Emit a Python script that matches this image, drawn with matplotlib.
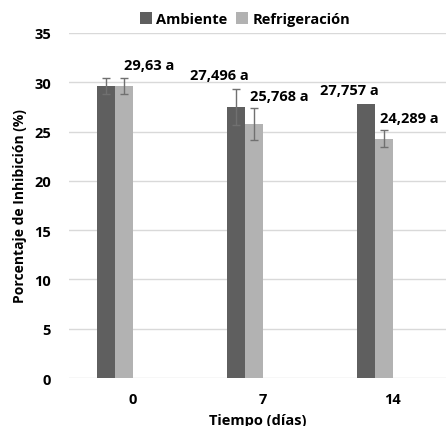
import numpy as np
import matplotlib.pyplot as plt

plt.rcParams['font.family'] = ['Open Sans', 'DejaVu Sans']
plt.rcParams['font.weight'] = 'bold'

dias = ['0', '7', '14']
ambiente = [29.63, 27.496, 27.757]
ambiente_err = [0.85, 1.85, 0.0]
refrigeracion = [29.63, 25.768, 24.289]
refrigeracion_err = [0.85, 1.6, 0.85]
etiq_ambiente = ['', '27,496 a', '27,757 a']
etiq_refrig = ['29,63 a', '25,768 a', '24,289 a']

fig = plt.figure(figsize=(4.46, 4.27), dpi=100)
ax = fig.add_axes([0.1547, 0.1124, 0.8453, 0.808])

x = np.arange(len(dias))
w = 0.14
b1 = ax.bar(x - 0.208, ambiente, w, color='#5f5f5f', label='Ambiente', zorder=3)
b2 = ax.bar(x - 0.068, refrigeracion, w, color='#b2b2b2', label='Refrigeración', zorder=3)

ekw = dict(fmt='none', ecolor='#707070', elinewidth=1, capsize=3, capthick=1, zorder=4)
for i in range(len(dias)):
    if ambiente_err[i] > 0:
        ax.errorbar(x[i] - 0.208, ambiente[i], yerr=ambiente_err[i], **ekw)
    if refrigeracion_err[i] > 0:
        ax.errorbar(x[i] - 0.068, refrigeracion[i], yerr=refrigeracion_err[i], **ekw)

for i in range(len(dias)):
    if etiq_ambiente[i]:
        ax.annotate(etiq_ambiente[i], (x[i] - 0.208, ambiente[i] + ambiente_err[i]),
                    xytext=(-12, 5), textcoords='offset points',
                    ha='center', va='bottom', fontsize=10.5, fontweight='bold')
    ax.annotate(etiq_refrig[i], (x[i] - 0.068, refrigeracion[i] + refrigeracion_err[i]),
                xytext=(18, 4), textcoords='offset points',
                ha='center', va='bottom', fontsize=10.5, fontweight='bold')

ax.set_xlim(-0.49, 2.41)
ax.set_ylim(0, 35)
ax.set_yticks(range(0, 36, 5))
ax.set_xticks(x)
ax.set_xticklabels(dias)
ax.tick_params(length=0, labelsize=10.5, pad=10)
ax.tick_params(axis='y', pad=13)
for s in ax.spines.values():
    s.set_visible(False)
ax.yaxis.grid(True, color='#d9d9d9', linewidth=1, zorder=0)
ax.set_axisbelow(True)

ax.set_xlabel('Tiempo (días)', fontsize=10.5, fontweight='bold', labelpad=5)
ax.set_ylabel('Porcentaje de Inhibición (%)', fontsize=10, fontweight='bold', labelpad=5)

fig.legend(handles=[b1, b2], loc='upper center', bbox_to_anchor=(0.55, 1.0),
           ncol=2, frameon=False, fontsize=10.5, handlelength=0.8, handleheight=0.8,
           handletextpad=0.3, columnspacing=0.6)

fig.savefig('out.png', dpi=100)
